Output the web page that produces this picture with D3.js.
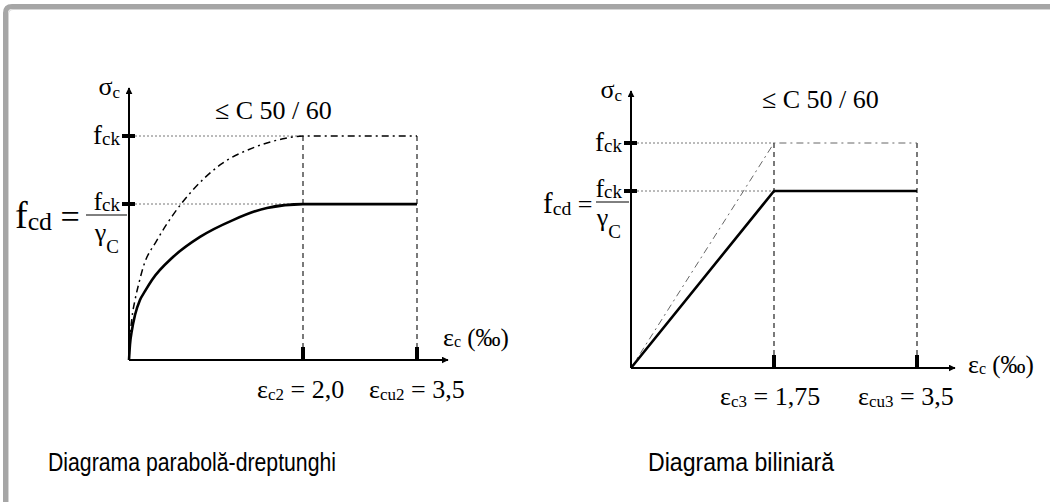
<!DOCTYPE html>
<html>
<head>
<meta charset="utf-8">
<script src="https://cdn.jsdelivr.net/npm/d3@7"></script>
<style>
  body { margin: 0; background: #fff; }
  svg { display: block; }
</style>
</head>
<body>
<svg></svg>
<script>
// strain values (per mille) and stress levels (MPa, C50/60)
var fck = 50, gammaC = 1.5, fcd = fck / gammaC;

// parabola-rectangle diagram
var parStrain     = [0, 0.011, 0.034, 0.069, 0.126, 0.184, 0.264, 0.506, 0.816, 1.195, 1.586, 2.0, 3.5];
var parDesign     = [0, 3.2, 6.4, 9.6, 12.8, 14.7, 17.1, 22.0, 26.3, 29.9, 32.5, 33.3, 33.3];
var parCharStrain = [0, 0.011, 0.034, 0.069, 0.115, 0.161, 0.322, 0.506, 0.736, 1.046, 1.425, 1.77, 2.0, 3.5];
var parChar       = [0, 4.3, 9.0, 12.8, 16.5, 19.7, 25.6, 31.0, 36.8, 42.9, 47.1, 49.3, 50, 50];
var parTicks = [2.0, 3.5];

// bilinear diagram
var biStrain = [0, 1.75, 3.5];
var biDesign = [0, fcd, fcd];
var biChar   = [0, fck, fck];
var biTicks  = [1.75, 3.5];

var SERIF = '"Liberation Serif", "Times New Roman", Times, serif';
var SANS = '"Liberation Sans", Arial, Helvetica, sans-serif';

var svg = d3.select("svg")
    .attr("width", 1050)
    .attr("height", 502);

svg.append("defs").append("marker")
    .attr("id", "arrow")
    .attr("viewBox", "0 0 10 10")
    .attr("refX", 9).attr("refY", 5)
    .attr("markerWidth", 7).attr("markerHeight", 7)
    .attr("markerUnits", "userSpaceOnUse")
    .attr("orient", "auto")
  .append("path")
    .attr("d", "M0,0 L10,5 L0,10 Z")
    .attr("fill", "#000");

// frame
svg.append("path")
    .attr("d", "M5.5,502 V13 Q5.5,6.5 12,6.5 H1050")
    .attr("fill", "none")
    .attr("stroke", "#a6a6a6")
    .attr("stroke-width", 5);
svg.append("path")
    .attr("d", "M8.5,502 V14 Q8.5,9.5 13,9.5 H1050")
    .attr("fill", "none")
    .attr("stroke", "#d6d6d6")
    .attr("stroke-width", 1);

function subText(g, x, y, parts, anchor) {
  var t = g.append("text")
      .attr("font-family", SERIF)
      .attr("fill", "#000")
      .attr("x", x).attr("y", y)
      .attr("text-anchor", anchor || "start");
  parts.forEach(function(p) {
    t.append("tspan")
      .attr("font-family", SERIF)
      .attr("font-size", p[1])
      .attr("dy", p[2] || 0)
      .text(p[0]);
  });
  return t;
}

function panel(o) {
  var g = svg.append("g");
  var x = d3.scaleLinear().domain(o.xDomain).range(o.xRange);
  var y = d3.scaleLinear().domain([0, fcd, fck]).range(o.yRange);

  var line = d3.line()
      .x(function(d) { return x(d[0]); })
      .y(function(d) { return y(d[1]); })
      .curve(o.curve);

  // dotted guides
  [fck, fcd].forEach(function(v) {
    g.append("line")
      .attr("x1", x(0) + 6).attr("x2", x(o.ticks[0]))
      .attr("y1", y(v)).attr("y2", y(v))
      .attr("stroke", "#777").attr("stroke-width", 1)
      .attr("stroke-dasharray", "2,2");
  });
  // dashed verticals
  o.ticks.forEach(function(t) {
    g.append("line")
      .attr("x1", x(t)).attr("x2", x(t))
      .attr("y1", y(fck)).attr("y2", y(0) - 13)
      .attr("stroke", "#222").attr("stroke-width", 1.2)
      .attr("stroke-dasharray", "5,4");
  });

  // characteristic curve (dash-dot)
  g.append("path")
    .datum(d3.zip(o.charX, o.charY))
    .attr("d", line)
    .attr("fill", "none")
    .attr("stroke", o.charColor)
    .attr("stroke-width", o.charWidth)
    .attr("stroke-dasharray", "7,4,2,4");

  // design curve
  g.append("path")
    .datum(d3.zip(o.desX, o.desY))
    .attr("d", line)
    .attr("fill", "none")
    .attr("stroke", "#000")
    .attr("stroke-width", 2.6);

  // axes
  g.append("line")
    .attr("x1", x(0)).attr("y1", y(0))
    .attr("x2", x(0)).attr("y2", o.yTop)
    .attr("stroke", "#000").attr("stroke-width", 2)
    .attr("marker-end", "url(#arrow)");
  g.append("line")
    .attr("x1", x(0)).attr("y1", y(0))
    .attr("x2", o.xEnd).attr("y2", y(0))
    .attr("stroke", "#000").attr("stroke-width", 2)
    .attr("marker-end", "url(#arrow)");

  // axis ticks
  g.selectAll(".xt").data(o.ticks).enter().append("rect")
    .attr("x", function(d) { return x(d) - 2; })
    .attr("y", y(0) - 13)
    .attr("width", 4).attr("height", 13)
    .attr("fill", "#000");
  g.selectAll(".yt").data([fck, fcd]).enter().append("rect")
    .attr("x", x(0) - 7)
    .attr("y", function(d) { return y(d) - 2; })
    .attr("width", 13).attr("height", 4)
    .attr("fill", "#000");

  // labels
  subText(g, x(0) - 9, o.yTop + 7, [["σ", 26], ["c", 17, 3]], "end");
  subText(g, x(0) - 9, y(fck) + 8, [["f", 27], ["ck", 19, 1]], "end");
  subText(g, x(0) - 9, y(fcd) + 6, [["f", 26], ["ck", 19, 1]], "end");
  g.append("line")
    .attr("x1", o.barX).attr("x2", x(0) - 2)
    .attr("y1", y(fcd) + 11).attr("y2", y(fcd) + 11)
    .attr("stroke", "#000").attr("stroke-width", 1);
  subText(g, x(0) - 10, y(fcd) + o.denY, [["γ", 26], ["C", 19, 12]], "end");
  subText(g, o.fcdX, y(fcd) + o.fcdY, [["f", o.fcdSize], ["cd", o.fcdSize * 0.68, 2], [" =", o.fcdSize * 0.9, -2]]);

  subText(g, o.classX, o.classY, [["≤ C 50 / 60", 26]]);
  subText(g, o.epsX, o.epsY, [["ε", 26], ["c", 16, 1], [" (‰)", 25, -1]]);

  o.bottom.forEach(function(b) {
    subText(g, b.x, o.bottomY, [["ε", 26], [b.sub, 17, 2], [" = " + b.val, 26, -2]]);
  });

  g.append("text")
    .attr("font-family", SANS)
    .attr("fill", "#000")
    .attr("x", o.titleX).attr("y", o.titleY)
    .attr("font-size", 25)
    .attr("textLength", o.titleW)
    .attr("lengthAdjust", "spacingAndGlyphs")
    .text(o.title);
}

panel({
  xDomain: [0, 2.0, 3.5], xRange: [129, 303, 417],
  yRange: [360, 204, 136], yTop: 88, xEnd: 448,
  ticks: parTicks,
  desX: parStrain, desY: parDesign,
  charX: parCharStrain, charY: parChar,
  charColor: "#000", charWidth: 1.5,
  curve: d3.curveMonotoneX,
  barX: 86, denY: 37, fcdX: 15, fcdY: 24, fcdSize: 38,
  classX: 215, classY: 119,
  epsX: 443, epsY: 346,
  bottom: [{x: 257, sub: "c2", val: "2,0"}, {x: 369, sub: "cu2", val: "3,5"}],
  bottomY: 398,
  title: "Diagrama parabolă-dreptunghi", titleX: 48, titleY: 471, titleW: 288
});

panel({
  xDomain: [0, 1.75, 3.5], xRange: [631, 774, 917],
  yRange: [368, 191, 143], yTop: 91, xEnd: 955,
  ticks: biTicks,
  desX: biStrain, desY: biDesign,
  charX: biStrain, charY: biChar,
  charColor: "#666", charWidth: 1,
  curve: d3.curveLinear,
  barX: 596, denY: 35, fcdX: 543, fcdY: 22, fcdSize: 29,
  classX: 762, classY: 108,
  epsX: 968, epsY: 373,
  bottom: [{x: 720, sub: "c3", val: "1,75"}, {x: 858, sub: "cu3", val: "3,5"}],
  bottomY: 405,
  title: "Diagrama biliniară", titleX: 648, titleY: 471, titleW: 186
});
</script>
</body>
</html>
